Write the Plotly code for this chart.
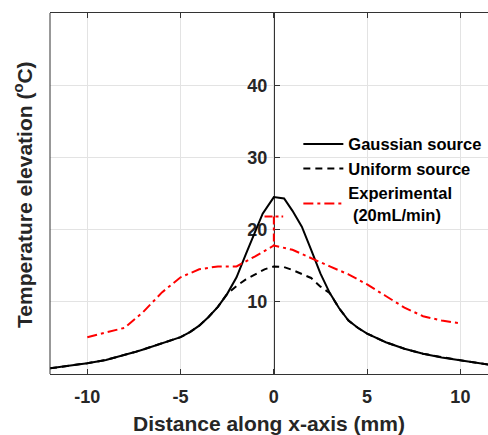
import plotly.graph_objects as go

# ---- data ----
gauss_x = [-12, -11, -10, -9, -8, -7.5, -7, -6, -5, -4.5, -4, -3.5, -3, -2.5, -2, -1.5, -1, -0.6, 0,
           0.55, 1, 1.5, 2, 2.5, 3, 3.5, 4, 4.5, 5, 6, 7, 8, 9, 10, 11.5]
gauss_y = [0.78, 1.1, 1.5, 1.95, 2.6, 3.0, 3.4, 4.2, 5.1, 5.8, 6.7, 7.9, 9.3, 11.1, 13.4, 16.6, 19.8, 22.2, 24.5,
           24.3, 22.6, 20.4, 17.2, 13.9, 11.2, 9.1, 7.4, 6.4, 5.6, 4.4, 3.5, 2.8, 2.3, 1.9, 1.3]

unif_x = [-12, -11, -10, -9, -8, -7.5, -7, -6, -5, -4.5, -4, -3.5, -3, -2.5, -2, -1.5, -1, -0.5, 0,
          0.55, 1, 1.5, 2, 2.5, 3, 3.5, 4, 4.5, 5, 6, 7, 8, 9, 10, 11.5]
unif_y = [0.78, 1.1, 1.5, 1.95, 2.6, 3.0, 3.4, 4.2, 5.1, 5.8, 6.7, 7.9, 9.3, 11.1, 12.2, 13.1, 13.8, 14.5, 14.9,
          14.8, 14.4, 13.9, 13.3, 12.1, 11.2, 9.1, 7.4, 6.4, 5.6, 4.4, 3.5, 2.8, 2.3, 1.9, 1.3]

exp_x = [-10, -8, -7, -6, -5, -4, -3, -2, -1, 0, 1, 2, 3, 4, 5, 6, 7, 8, 9, 10]
exp_y = [5.1, 6.4, 8.6, 11.3, 13.4, 14.5, 14.9, 14.9, 16.3, 17.8, 17.2, 16.0, 14.9, 13.8, 12.4, 10.8, 9.2, 8.0, 7.4, 7.0]

err_x = 0
err_y = 17.8
err_up = 4.0

x_ticks = [-10, -5, 0, 5, 10]
x_tick_text = ["-10", "-5", "0", "5", "10"]
y_ticks = [10, 20, 30, 40]
y_tick_text = ["10", "20", "30", "40"]
x_range = [-12, 11.48]
y_range = [0, 50]

FONT = "Liberation Sans, Arial, Helvetica, sans-serif"
TXT = "#262626"
cap = 0.5

fig = go.Figure()
fig.add_trace(go.Scatter(x=gauss_x, y=gauss_y, mode="lines", name="Gaussian source",
                         line=dict(color="black", width=2)))
fig.add_trace(go.Scatter(x=unif_x, y=unif_y, mode="lines", name="Uniform source",
                         line=dict(color="black", width=2, dash="7px,5px")))
fig.add_trace(go.Scatter(x=exp_x, y=exp_y, mode="lines", name="Experimental<br> (20mL/min)",
                         line=dict(color="#ff0000", width=2, dash="10px,4px,3px,4px")))
# upper error bar of the experimental point at x=0
fig.add_trace(go.Scatter(x=[err_x - cap, err_x + cap, None, err_x, err_x],
                         y=[err_y + err_up, err_y + err_up, None, err_y + err_up, err_y],
                         mode="lines", showlegend=False, hoverinfo="skip",
                         line=dict(color="#ff0000", width=2, dash="8px,3px,3px,3px")))

fig.update_layout(
    width=488, height=435,
    margin=dict(l=50, r=0, t=13, b=61),
    paper_bgcolor="white", plot_bgcolor="white",
    font=dict(family=FONT, color=TXT),
    showlegend=True,
    legend=dict(x=0.567, y=0.685, xanchor="left", yanchor="top",
                bgcolor="rgba(0,0,0,0)", borderwidth=0,
                font=dict(size=16.5, weight="bold", color="black", family=FONT),
                itemwidth=40, tracegroupgap=0),
    xaxis=dict(range=x_range, tickvals=x_ticks, ticktext=x_tick_text, ticks="inside", ticklen=5,
               tickcolor="#333",
               showline=True, linecolor="#333", linewidth=1, mirror="ticks",
               showgrid=True, gridcolor="#e3e3e3", gridwidth=1, zeroline=False,
               tickfont=dict(size=18, weight="bold", color=TXT, family=FONT),
               ticklabelstandoff=6,
               title=dict(text="Distance along x-axis (mm)", standoff=11,
                          font=dict(size=21, weight="bold", color=TXT, family=FONT))),
    yaxis=dict(range=y_range, tickvals=y_ticks, ticktext=y_tick_text, ticks="inside", ticklen=5,
               tickcolor="#333", layer="below traces",
               anchor="free", position=(0 - x_range[0]) / (x_range[1] - x_range[0]),
               showline=True, linecolor="#333", linewidth=1,
               showgrid=True, gridcolor="#e3e3e3", gridwidth=1, zeroline=False,
               ticklabelstandoff=3,
               tickfont=dict(size=18, weight="bold", color=TXT, family=FONT)),
    shapes=[dict(type="line", xref="paper", yref="paper", x0=0, x1=0, y0=0, y1=1,
                 line=dict(color="#333", width=1))],
    annotations=[dict(text="Temperature elevation (<sup>o</sup>C)", xref="paper", yref="paper",
                      x=0, y=0.496, xanchor="center", yanchor="middle", xshift=-27,
                      textangle=-90, showarrow=False,
                      font=dict(size=21, weight="bold", color=TXT, family=FONT))],
)

fig.write_html("out.html")
